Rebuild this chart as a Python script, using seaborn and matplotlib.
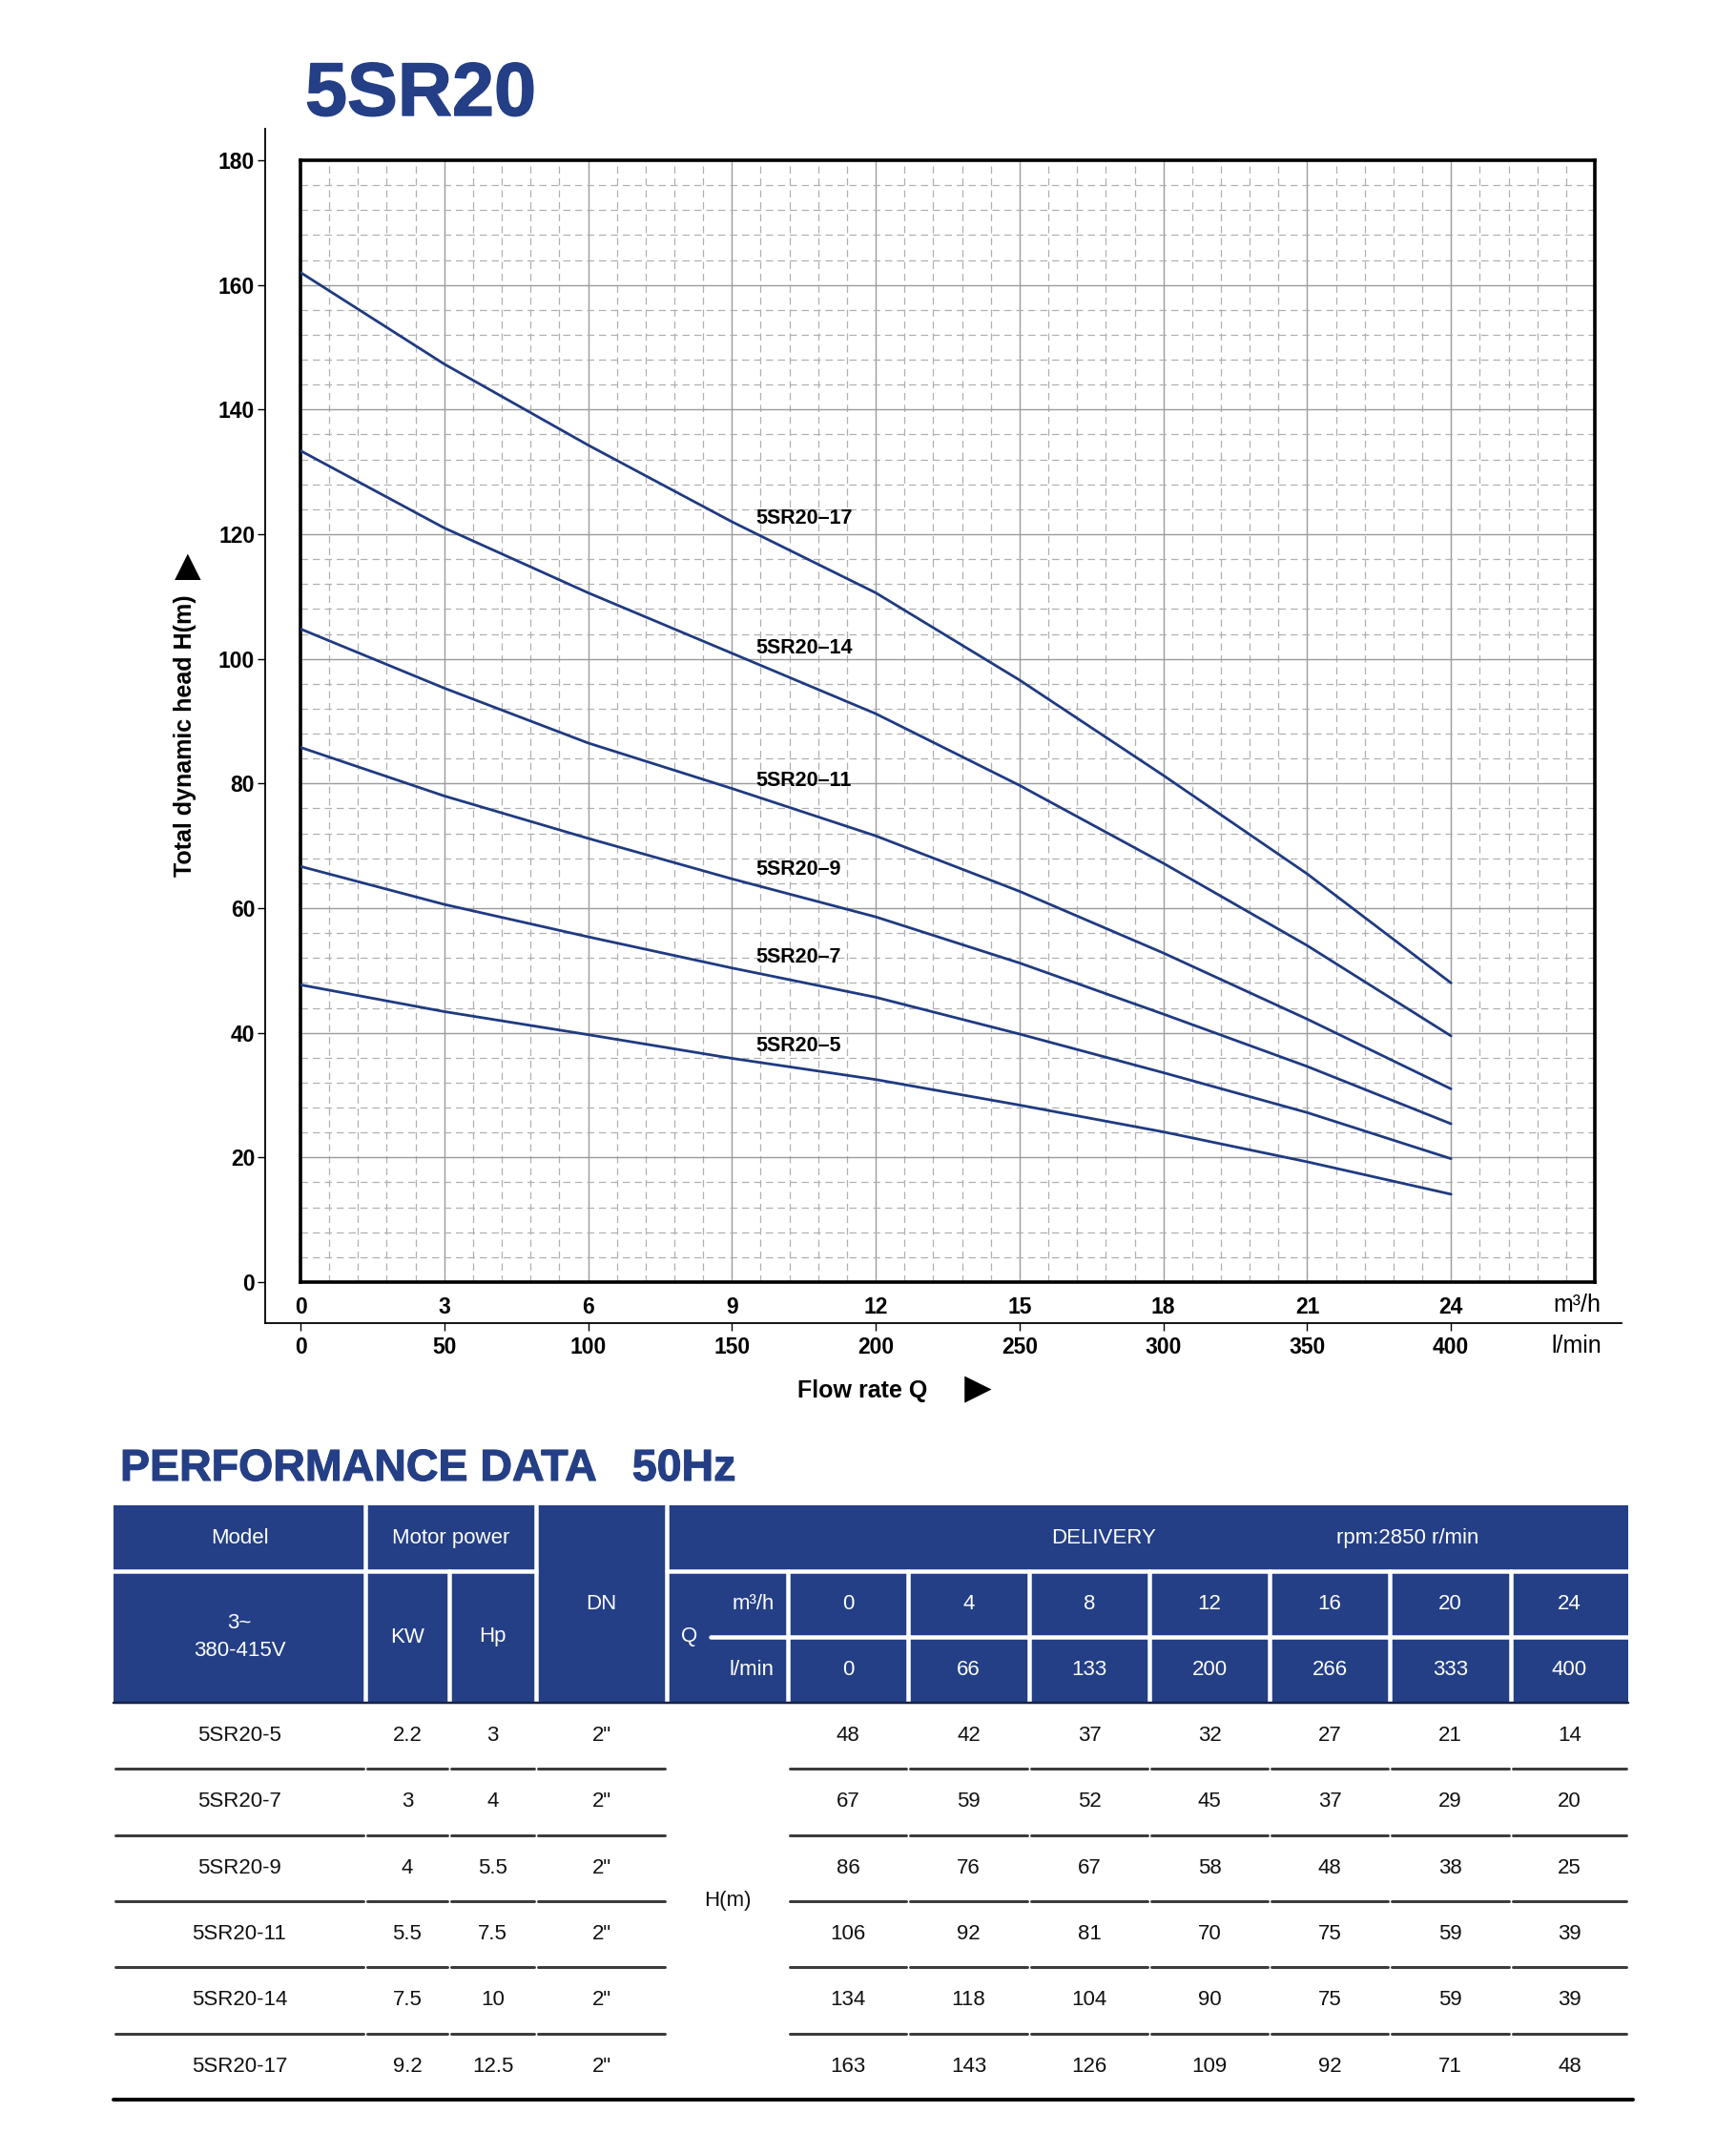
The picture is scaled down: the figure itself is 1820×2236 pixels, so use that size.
import numpy as np
import pandas as pd
import seaborn as sns
import matplotlib
matplotlib.use('Agg')
import matplotlib.pyplot as plt
import matplotlib.patheffects as pe
from matplotlib.patches import Rectangle
from matplotlib.ticker import MultipleLocator

# curve values: flow (m3/h) -> head (m)
flow_q = [0, 3, 6, 9, 12, 15, 18, 21, 24]
head_5 = [47.7, 43.4, 39.7, 35.9, 32.5, 28.4, 24.1, 19.3, 14.1]
head_7 = [66.7, 60.6, 55.4, 50.4, 45.7, 39.8, 33.6, 27.2, 19.8]
head_9 = [85.8, 78.0, 71.2, 64.7, 58.6, 51.2, 43.0, 34.6, 25.4]
head_11 = [104.8, 95.3, 86.5, 79.2, 71.6, 62.7, 52.8, 42.2, 31.0]
head_14 = [133.4, 121.0, 110.6, 100.9, 91.2, 79.7, 67.2, 54.0, 39.5]
head_17 = [162.0, 147.3, 134.3, 122.0, 110.6, 96.6, 81.3, 65.5, 48.0]
curve_names = ['5SR20–5', '5SR20–7', '5SR20–9', '5SR20–11', '5SR20–14', '5SR20–17']

y_ticks = list(range(0, 181, 20))
q_ticks = list(range(0, 25, 3))
lmin_ticks = list(range(0, 401, 50))

# performance table
tbl_models = ['5SR20-5', '5SR20-7', '5SR20-9', '5SR20-11', '5SR20-14', '5SR20-17']
tbl_kw = ['2.2', '3', '4', '5.5', '7.5', '9.2']
tbl_hp = ['3', '4', '5.5', '7.5', '10', '12.5']
tbl_dn = ['2"', '2"', '2"', '2"', '2"', '2"']
tbl_q_m3h = ['0', '4', '8', '12', '16', '20', '24']
tbl_q_lmin = ['0', '66', '133', '200', '266', '333', '400']
tbl_head = [
    [48, 42, 37, 32, 27, 21, 14],
    [67, 59, 52, 45, 37, 29, 20],
    [86, 76, 67, 58, 48, 38, 25],
    [106, 92, 81, 70, 75, 59, 39],
    [134, 118, 104, 90, 75, 59, 39],
    [163, 143, 126, 109, 92, 71, 48],
]

heads = [head_5, head_7, head_9, head_11, head_14, head_17]
df = pd.DataFrame({
    'q': flow_q * len(heads),
    'h': sum(heads, []),
    'model': np.repeat(curve_names, len(flow_q)),
})

sns.set_style('white')
plt.rcParams['font.family'] = ['Liberation Sans', 'DejaVu Sans']
plt.rcParams['text.color'] = 'black'
plt.rcParams['xtick.color'] = 'black'
plt.rcParams['ytick.color'] = 'black'

blue = '#243f86'
navy = '#1f3a80'
W, H = 1820, 2236
PX = 0.72  # points per pixel at dpi 100

fig = plt.figure(figsize=(W / 100, H / 100), dpi=100)
fig.patch.set_facecolor('white')

# ---- chart ----
ax = fig.add_axes([315 / W, 1 - 1344 / H, (1672 - 315) / W, (1344 - 168) / H])
sns.lineplot(data=df, x='q', y='h', hue='model', palette=[navy] * 6,
             legend=False, lw=2.0, ax=ax, zorder=3)
ax.set_xlim(0, 27)
ax.set_ylim(0, 180)
ax.set_xticks(q_ticks)
ax.set_xticklabels([str(v) for v in q_ticks], fontweight='bold')
ax.set_yticks(y_ticks)
ax.xaxis.set_minor_locator(MultipleLocator(0.6))
ax.yaxis.set_minor_locator(MultipleLocator(4))
ax.grid(which='major', color='#9b9b9b', lw=1.0, ls='-')
ax.grid(which='minor', color='#b0b0b0', lw=0.9, ls=(0, (6, 4)))
ax.axvline(27, color='#9b9b9b', lw=1.0)
ax.set_axisbelow(True)
for s in ax.spines.values():
    s.set_visible(True)
    s.set_color('black')
    s.set_linewidth(2.6)
ax.tick_params(axis='x', which='both', length=0, pad=11, labelsize=16.5)
ax.tick_params(axis='y', which='both', length=0, labelleft=False)
ax.set_xlabel('')
ax.set_ylabel('')

for name, h in zip(curve_names, heads):
    ax.text(9.5, np.interp(9.5, flow_q, h) + 2.5, name, fontsize=15.5,
            fontweight='bold', ha='left', va='center', zorder=4)

# outer axis lines: head on the left, l/min underneath
sec_y = ax.secondary_yaxis(-37 / 1357)
sec_y.set_yticks(y_ticks, labels=[str(v) for v in y_ticks])
plt.setp(sec_y.get_yticklabels(), fontweight='bold')
sec_y.tick_params(length=8 * PX, width=1, labelsize=16.5, pad=2)
sec_y.spines['left'].set_bounds(-6.6, 185)
sec_y.spines['left'].set_linewidth(1.3)
sec_y.spines['left'].set_color('black')

sec_x = ax.secondary_xaxis(-43 / 1176, functions=(lambda q: q * 1000 / 60,
                                                  lambda l: l * 60 / 1000))
sec_x.set_xticks(lmin_ticks, labels=[str(v) for v in lmin_ticks])
plt.setp(sec_x.get_xticklabels(), fontweight='bold')
sec_x.tick_params(length=8 * PX, width=1, labelsize=16.5, pad=4)
sec_x.spines['bottom'].set_bounds(-0.74 * 1000 / 60, 27.55 * 1000 / 60)
sec_x.spines['bottom'].set_linewidth(1.3)
sec_x.spines['bottom'].set_color('black')

fig.text(1628 / W, 1 - 1368 / H, 'm³/h', fontsize=18, ha='left', va='center')
fig.text(1626 / W, 1 - 1411 / H, 'l/min', fontsize=18, ha='left', va='center')

fig.text(194 / W, 1 - 771 / H, 'Total dynamic head H(m)', rotation=90,
         fontsize=18, fontweight='bold', ha='center', va='center')
fig.text(190 / W, 1 - 585 / H, '►', rotation=90, fontsize=33,
         ha='center', va='center')
fig.text(836 / W, 1 - 1458 / H, 'Flow rate Q', fontsize=18,
         fontweight='bold', ha='left', va='center')
fig.text(1025 / W, 1 - 1458 / H, '►', fontsize=34, ha='center', va='center')

fig.text(320 / W, 1 - 121 / H, '5SR20', fontsize=57, fontweight='bold',
         color=blue, ha='left', va='baseline',
         path_effects=[pe.withStroke(linewidth=1.0, foreground=blue)])
fig.text(126 / W, 1 - 1552 / H, 'PERFORMANCE DATA   50Hz', fontsize=33.5,
         fontweight='bold', color=blue, ha='left', va='baseline',
         path_effects=[pe.withStroke(linewidth=0.8, foreground=blue)])

# ---- table ----
tax = fig.add_axes([0, 0, 1, 1], zorder=-1)
tax.set_xlim(0, W)
tax.set_ylim(H, 0)
tax.axis('off')
tax.patch.set_visible(False)

col_edges = [119, 383, 471, 562, 699, 826, 952, 1079, 1205, 1331, 1457, 1584, 1707]
centers = [(a + b) / 2 for a, b in zip(col_edges[:-1], col_edges[1:])]
hdr_top, hdr_mid1, hdr_mid2, hdr_bot = 1578, 1647, 1716, 1785
row_h = 69.3
white_lw = 4.5 * PX

tax.add_patch(Rectangle((col_edges[0], hdr_top), col_edges[-1] - col_edges[0],
                        hdr_bot - hdr_top, color=blue, lw=0))
for x in [383, 562, 699]:
    tax.plot([x, x], [hdr_top, hdr_bot], color='white', lw=white_lw)
for x in [471] + col_edges[5:-1]:
    tax.plot([x, x], [hdr_mid1, hdr_bot], color='white', lw=white_lw)
tax.plot([119, 562], [hdr_mid1, hdr_mid1], color='white', lw=white_lw)
tax.plot([699, 1707], [hdr_mid1, hdr_mid1], color='white', lw=white_lw)
tax.plot([745, 1707], [hdr_mid2, hdr_mid2], color='white', lw=white_lw)
tax.plot([119, 1707], [hdr_bot, hdr_bot], color='#16224a', lw=2.5 * PX)

tkw = dict(fontsize=16, color='white', ha='center', va='center')
r1 = (hdr_top + hdr_mid1) / 2
r2 = (hdr_mid1 + hdr_mid2) / 2
r3 = (hdr_mid2 + hdr_bot) / 2
r23 = (hdr_mid1 + hdr_bot) / 2
tax.text(centers[0], r1, 'Model', **tkw)
tax.text((383 + 562) / 2, r1, 'Motor power', **tkw)
tax.text(centers[3], (hdr_top + hdr_bot) / 2, 'DN', **tkw)
tax.text(1157, r1, 'DELIVERY', **tkw)
tax.text(1476, r1, 'rpm:2850 r/min', **tkw)
tax.text(centers[0], r23, '3~\n380-415V', linespacing=1.45, **tkw)
tax.text(centers[1], r23, 'KW', **tkw)
tax.text(centers[2], r23, 'Hp', **tkw)
tax.text(723, r23, 'Q', **tkw)
tax.text(812, r2, 'm³/h', fontsize=16, color='white', ha='right', va='center')
tax.text(812, r3, 'l/min', fontsize=16, color='white', ha='right', va='center')
for c, m3, lm in zip(centers[5:], tbl_q_m3h, tbl_q_lmin):
    tax.text(c, r2, m3, **tkw)
    tax.text(c, r3, lm, **tkw)

bkw = dict(fontsize=16, color='#111111', ha='center', va='center')
for i, (m, kw, hp, dn, vals) in enumerate(zip(tbl_models, tbl_kw, tbl_hp, tbl_dn, tbl_head)):
    yc = hdr_bot + (i + 0.5) * row_h
    for c, t in zip(centers[:4], [m, kw, hp, dn]):
        tax.text(c, yc, t, **bkw)
    for c, v in zip(centers[5:], vals):
        tax.text(c, yc, str(v), **bkw)
    if i < len(tbl_models) - 1:
        yl = hdr_bot + (i + 1) * row_h
        for j, (a, b) in enumerate(zip(col_edges[:-1], col_edges[1:])):
            if j == 4:
                continue
            tax.plot([a + 2, b - 2], [yl, yl], color='#3c3c3c', lw=3 * PX)

tax.text(763, hdr_bot + 3 * row_h, 'H(m)', **bkw)
y_end = hdr_bot + len(tbl_models) * row_h
tax.plot([119, 1712], [y_end, y_end], color='black', lw=4 * PX)

fig.savefig('out.png', dpi=100, facecolor='white')
